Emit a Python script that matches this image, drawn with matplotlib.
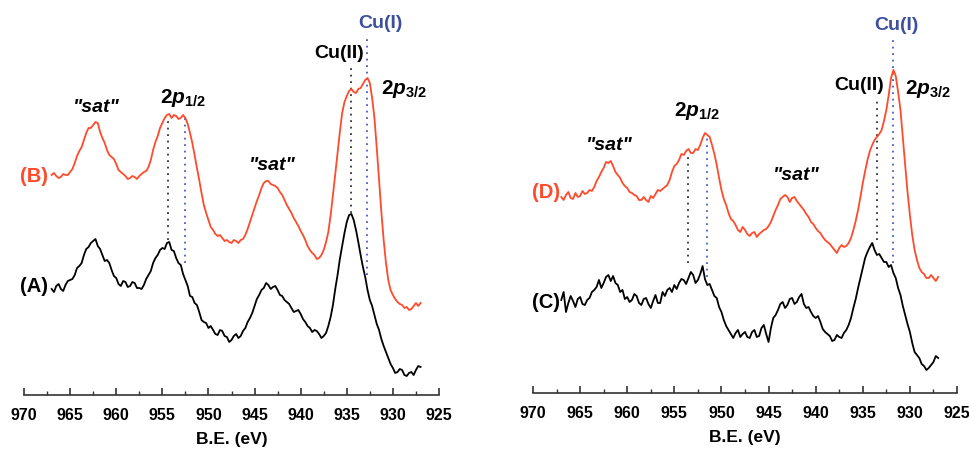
import numpy as np
import matplotlib
matplotlib.use("Agg")
import matplotlib.pyplot as plt
from matplotlib.ticker import MultipleLocator

plt.rcParams["font.family"] = ["Liberation Sans", "DejaVu Sans"]
plt.rcParams["mathtext.fontset"] = "custom"
plt.rcParams["mathtext.it"] = "Liberation Sans:italic:bold"
plt.rcParams["mathtext.rm"] = "Liberation Sans:bold"

# Binding-energy sampling grid (eV), 967 -> 927 in 0.25 eV steps
energy = np.arange(967.0, 926.99, -0.25)

# Cu 2p spectra, stacked intensities (a.u.); one row = 5 eV
intensity_A = [
    111, 108, 114, 116, 111, 109, 115, 119, 120, 121, 125, 132, 134, 137, 145, 151, 153, 157, 159, 161,
    154, 151, 145, 139, 140, 137, 130, 124, 122, 116, 114, 119, 118, 113, 114, 118, 117, 112, 112, 111,
    115, 121, 125, 129, 137, 142, 145, 150, 152, 151, 157, 158, 150, 149, 142, 137, 135, 126, 120, 114,
    104, 103, 97, 95, 88, 80, 78, 77, 72, 74, 70, 66, 65, 70, 69, 64, 63, 58, 60, 64,
    66, 62, 64, 69, 72, 78, 82, 87, 94, 101, 105, 110, 112, 117, 115, 111, 113, 114, 110, 105,
    104, 100, 98, 96, 92, 88, 89, 90, 86, 81, 78, 74, 72, 68, 70, 69, 66, 62, 64, 67,
    74, 83, 95, 111, 125, 141, 154, 167, 178, 185, 186, 180, 170, 158, 145, 133, 123, 110, 100, 94,
    85, 76, 70, 61, 54, 48, 42, 36, 32, 27, 28, 31, 30, 25, 24, 27, 28, 25, 30, 34,
    33]
intensity_B = [
    225, 227, 224, 222, 223, 226, 225, 225, 228, 231, 237, 244, 249, 253, 260, 267, 272, 272, 275, 278,
    277, 268, 262, 257, 250, 245, 243, 241, 236, 230, 228, 226, 224, 221, 222, 224, 223, 221, 224, 226,
    228, 229, 233, 240, 250, 258, 264, 272, 277, 282, 285, 286, 282, 285, 284, 281, 282, 285, 282, 276,
    267, 257, 245, 232, 220, 207, 195, 187, 180, 173, 170, 166, 164, 165, 162, 159, 160, 158, 157, 160,
    159, 157, 160, 161, 165, 171, 178, 185, 192, 199, 205, 212, 217, 219, 219, 216, 215, 214, 212, 208,
    205, 200, 195, 191, 187, 182, 178, 174, 169, 165, 160, 154, 150, 147, 145, 141, 142, 145, 150, 158,
    168, 185, 205, 226, 247, 268, 287, 298, 304, 309, 311, 308, 307, 311, 312, 316, 320, 322, 317, 302,
    282, 252, 220, 188, 160, 137, 120, 110, 105, 101, 98, 96, 95, 92, 93, 90, 91, 94, 97, 94,
    97]
intensity_C = [
    100, 108, 88, 97, 104, 99, 93, 101, 103, 96, 95, 100, 102, 108, 110, 113, 120, 112, 117, 123,
    125, 119, 124, 117, 115, 108, 110, 101, 103, 98, 100, 106, 104, 97, 95, 101, 102, 96, 92, 99,
    105, 97, 97, 108, 104, 110, 112, 108, 115, 111, 117, 121, 120, 116, 122, 128, 125, 117, 120, 126,
    134, 121, 115, 116, 110, 104, 102, 93, 88, 80, 74, 70, 66, 62, 67, 70, 63, 66, 68, 63,
    62, 68, 70, 63, 64, 72, 75, 66, 58, 72, 82, 85, 90, 96, 98, 92, 95, 101, 102, 96,
    98, 103, 106, 96, 92, 93, 88, 84, 82, 84, 78, 71, 68, 66, 64, 59, 60, 65, 63, 62,
    67, 70, 75, 82, 92, 101, 112, 122, 132, 142, 148, 153, 157, 150, 145, 146, 142, 138, 138, 133,
    135, 127, 122, 112, 105, 94, 85, 76, 68, 57, 48, 45, 42, 36, 34, 30, 32, 35, 38, 44,
    42]
intensity_D = [
    203, 200, 205, 208, 202, 201, 207, 203, 204, 209, 206, 207, 210, 209, 213, 219, 223, 228, 232, 238,
    237, 239, 234, 228, 225, 222, 217, 214, 212, 208, 207, 205, 204, 200, 200, 203, 200, 198, 204, 202,
    206, 210, 209, 211, 213, 215, 220, 228, 234, 236, 240, 246, 245, 249, 251, 247, 247, 251, 250, 255,
    262, 267, 265, 263, 255, 246, 235, 222, 210, 201, 195, 187, 181, 179, 175, 170, 168, 173, 170, 166,
    164, 167, 168, 163, 166, 168, 170, 171, 174, 178, 184, 190, 195, 201, 203, 205, 203, 198, 202, 203,
    199, 196, 193, 190, 186, 183, 178, 176, 172, 169, 167, 163, 160, 158, 156, 153, 150, 147, 152, 155,
    153, 154, 157, 162, 170, 179, 190, 203, 217, 229, 240, 249, 255, 260, 263, 266, 270, 279, 290, 305,
    322, 330, 324, 308, 290, 262, 235, 208, 185, 165, 150, 140, 132, 128, 126, 122, 122, 125, 122, 119,
    123]

# Reference binding energies for the Cu(II) / Cu(I) components
left_cu2_32, left_cu1_32 = 934.55, 932.85
left_cu2_12, left_cu1_12 = 954.4, 952.5
right_cu2_32, right_cu1_32 = 933.5, 931.75
right_cu2_12, right_cu1_12 = 953.6, 951.5

tick_values = [970, 965, 960, 955, 950, 945, 940, 935, 930, 925]

RED = "#ff4a2b"
BLUE_TXT = "#3b4f9e"
BLUE_DOT = "#4a5cc8"
DARK_DOT = "#333333"

fig = plt.figure(figsize=(9.70, 4.51), dpi=100)
ax_l = fig.add_axes([24 / 970, 56 / 451, 415 / 970, 395 / 451])
ax_r = fig.add_axes([533 / 970, 58 / 451, 424 / 970, 393 / 451])

def style_axis(ax, ymin):
    ax.set_xlim(970, 925)
    ax.set_ylim(ymin, 400)
    for s in ("left", "right", "top"):
        ax.spines[s].set_visible(False)
    ax.spines["bottom"].set_color("#333333")
    ax.spines["bottom"].set_linewidth(1.2)
    ax.set_yticks([])
    ax.set_xticks(tick_values)
    ax.xaxis.set_minor_locator(MultipleLocator(2.5))
    ax.tick_params(axis="x", which="major", direction="in", length=5, width=1.2,
                   color="#333333", pad=9, labelsize=11.5)
    ax.tick_params(axis="x", which="minor", direction="in", length=3, width=1.0,
                   color="#333333")
    for lab in ax.get_xticklabels():
        lab.set_fontweight("bold")
    ax.set_xlabel("B.E. (eV)", fontsize=12.5, fontweight="bold", labelpad=7)
    ax.patch.set_alpha(0)

style_axis(ax_l, 5)
style_axis(ax_r, 7)

dot_style = dict(linestyle=(0, (1, 2.6)), linewidth=1.3)

def vdots(ax, x, y0, y1, color):
    ax.plot([x, x], [y0, y1], color=color, **dot_style, zorder=1)

# Left panel: spectra (A) and (B)
ax_l.plot(energy, intensity_A, color="black", lw=1.3, zorder=3)
ax_l.plot(energy, intensity_B, color=RED, lw=1.3, zorder=3)
vdots(ax_l, left_cu1_32, 125, 363, BLUE_DOT)
vdots(ax_l, left_cu2_32, 187, 335, DARK_DOT)
vdots(ax_l, left_cu2_12, 160, 282, DARK_DOT)
vdots(ax_l, left_cu1_12, 137, 282, BLUE_DOT)

# Right panel: spectra (C) and (D)
ax_r.plot(energy, intensity_C, color="black", lw=1.3, zorder=3)
ax_r.plot(energy, intensity_D, color=RED, lw=1.3, zorder=3)
vdots(ax_r, right_cu1_32, 137, 363, BLUE_DOT)
vdots(ax_r, right_cu2_32, 160, 300, DARK_DOT)
vdots(ax_r, right_cu2_12, 137, 243, DARK_DOT)
vdots(ax_r, right_cu1_12, 123, 263, BLUE_DOT)

lab_kw = dict(fontsize=14, fontweight="bold", ha="center", va="center")
name_kw = dict(fontsize=14.5, fontweight="bold", ha="center", va="center")
sat_kw = dict(fontsize=14, fontweight="bold", fontstyle="italic", ha="center", va="center")
orb_kw = dict(fontsize=15, va="center")

def annotate(ax, cu1, cu2, p32, p12, sat1, sat2, upper, lower, names):
    ax.text(*cu1, "Cu(I)", color=BLUE_TXT, **lab_kw)
    ax.text(*cu2, "Cu(II)", color="black", **lab_kw)
    ax.text(*p32, r"$\mathit{2p}_{\mathit{3/2}}$", ha="left", color="black", **orb_kw)
    ax.text(*p12, r"$\mathit{2p}_{\mathit{1/2}}$", ha="center", color="black", **orb_kw)
    ax.text(*sat1, '"sat"', color="black", **sat_kw)
    ax.text(*sat2, '"sat"', color="black", **sat_kw)
    ax.text(*upper, names[0], color=RED, **name_kw)
    ax.text(*lower, names[1], color="black", **name_kw)

annotate(ax_l, (931.4, 376), (935.8, 347), (931.3, 311), (952.8, 302),
         (962.2, 293), (943.1, 235), (968.9, 223), (968.9, 113), ("(B)", "(A)"))
annotate(ax_r, (931.4, 375), (935.4, 315), (930.5, 311), (952.6, 289),
         (961.9, 254), (942.1, 224), (968.6, 207), (968.6, 97), ("(D)", "(C)"))

fig.savefig("out.png", dpi=100)
